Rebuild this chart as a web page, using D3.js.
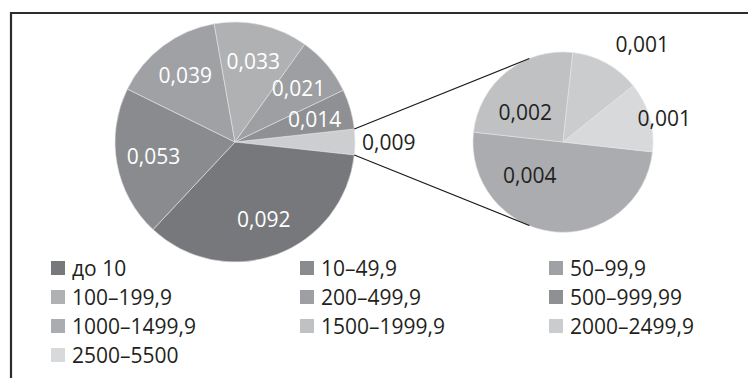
<!DOCTYPE html>
<html>
<head>
<meta charset="utf-8">
<script src="https://cdn.jsdelivr.net/npm/d3@7"></script>
<style>
  body { margin: 0; background: #fff; }
  svg text { font-family: "Open Sans", sans-serif; }
</style>
</head>
<body>
<div id="chart"></div>
<script>
// main pie: six ranges plus the grouped "other" slice
var mainCategories = ["до 10", "10–49,9", "50–99,9", "100–199,9", "200–499,9", "500–999,99"];
var mainValues = [0.092, 0.053, 0.039, 0.033, 0.021, 0.014];
var otherValue = 0.009;

// second pie: the split of the "other" slice
var subCategories = ["1000–1499,9", "1500–1999,9", "2000–2499,9", "2500–5500"];
var subValues = [0.004, 0.002, 0.001, 0.001];

var legendOrder = mainCategories.concat(subCategories);
var colors = {
  "до 10": "#77787c",
  "10–49,9": "#8a8b8e",
  "50–99,9": "#a0a1a4",
  "100–199,9": "#b0b1b3",
  "200–499,9": "#9e9fa2",
  "500–999,99": "#8f9093",
  "1000–1499,9": "#abacaf",
  "1500–1999,9": "#c0c1c3",
  "2000–2499,9": "#cbcccd",
  "2500–5500": "#d8d9da",
  "other": "#cdced0"
};

var fmt = function (v) { return String(v).replace(".", ","); };

var width = 748, height = 378;
var svg = d3.select("#chart").append("svg")
  .attr("width", width)
  .attr("height", height);

// frame
svg.append("line").attr("x1", 10).attr("x2", width).attr("y1", 13).attr("y2", 13)
  .attr("stroke", "#2d2d2d").attr("stroke-width", 2.2);
svg.append("line").attr("x1", 11).attr("x2", 11).attr("y1", 12).attr("y2", height)
  .attr("stroke", "#2d2d2d").attr("stroke-width", 2.2);

var main = { cx: 235, cy: 142, r: 120 };
var sub = { cx: 563, cy: 142, r: 90 };

// main pie, "other" slice centred on 3 o'clock
var mainData = [{ key: "other", value: otherValue }].concat(
  mainCategories.map(function (c, i) { return { key: c, value: mainValues[i] }; }));
var mainTotal = d3.sum(mainData, function (d) { return d.value; });
var half = Math.PI * otherValue / mainTotal;

var mainPie = d3.pie().sort(null).value(function (d) { return d.value; })
  .startAngle(Math.PI / 2 - half).endAngle(Math.PI / 2 - half + 2 * Math.PI);
var mainArcs = mainPie(mainData);
var mainArc = d3.arc().innerRadius(0).outerRadius(main.r);
var mainLabelArc = d3.arc().innerRadius(main.r * 0.69).outerRadius(main.r * 0.69);

var gMain = svg.append("g").attr("transform", "translate(" + main.cx + "," + main.cy + ")");
gMain.selectAll("path").data(mainArcs).enter().append("path")
  .attr("d", mainArc)
  .attr("fill", function (d) { return colors[d.data.key]; })
  .attr("stroke", "#e4e4e6").attr("stroke-width", 0.6);

gMain.selectAll("text").data(mainArcs.filter(function (d) { return d.data.key != "other"; }))
  .enter().append("text")
  .attr("transform", function (d) { return "translate(" + mainLabelArc.centroid(d) + ")"; })
  .attr("text-anchor", "middle").attr("dy", "0.36em")
  .attr("font-size", 21).attr("fill", "#fff")
  .text(function (d) { return fmt(d.data.value); });

// label of the grouped slice, outside
var otherArc = mainArcs[0];
var otherPos = d3.arc().innerRadius(main.r * 1.25).outerRadius(main.r * 1.25).centroid(otherArc);
svg.append("text")
  .attr("x", main.cx + otherPos[0] - 23).attr("y", main.cy + otherPos[1])
  .attr("dy", "0.36em").attr("font-size", 21).attr("fill", "#231f20")
  .text(fmt(otherValue));

// second pie
var subData = subCategories.map(function (c, i) { return { key: c, value: subValues[i] }; });
var subStart = 96.3 * Math.PI / 180;
var subPie = d3.pie().sort(null).value(function (d) { return d.value; })
  .startAngle(subStart).endAngle(subStart + 2 * Math.PI);
var subArcs = subPie(subData);
var subArc = d3.arc().innerRadius(0).outerRadius(sub.r);

var gSub = svg.append("g").attr("transform", "translate(" + sub.cx + "," + sub.cy + ")");
gSub.selectAll("path").data(subArcs).enter().append("path")
  .attr("d", subArc)
  .attr("fill", function (d) { return colors[d.data.key]; })
  .attr("stroke", "#e4e4e6").attr("stroke-width", 0.6);

// label spots for the small pie (screen angle in degrees, distance)
var subLabelSpots = [[135, 47], [218, 48], [309, 126], [347, 104]];
gSub.selectAll("text").data(subArcs).enter().append("text")
  .attr("x", function (d, i) { return subLabelSpots[i][1] * Math.cos(subLabelSpots[i][0] * Math.PI / 180); })
  .attr("y", function (d, i) { return subLabelSpots[i][1] * Math.sin(subLabelSpots[i][0] * Math.PI / 180); })
  .attr("text-anchor", "middle").attr("dy", "0.36em")
  .attr("font-size", 21).attr("fill", "#231f20")
  .text(function (d) { return fmt(d.data.value); });

// connector lines: from the edges of the grouped slice, tangent to the second pie
function tangentPoint(px, py, pickTop) {
  var dx = px - sub.cx, dy = py - sub.cy;
  var d = Math.sqrt(dx * dx + dy * dy);
  var dir = Math.atan2(dy, dx);
  var a = Math.acos(sub.r / d);
  var p1 = [sub.cx + sub.r * Math.cos(dir + a), sub.cy + sub.r * Math.sin(dir + a)];
  var p2 = [sub.cx + sub.r * Math.cos(dir - a), sub.cy + sub.r * Math.sin(dir - a)];
  if (pickTop) return p1[1] < p2[1] ? p1 : p2;
  return p1[1] > p2[1] ? p1 : p2;
}
[otherArc.startAngle, otherArc.endAngle].forEach(function (a, i) {
  var px = main.cx + main.r * Math.sin(a);
  var py = main.cy - main.r * Math.cos(a);
  var t = tangentPoint(px, py, i == 0);
  svg.append("line")
    .attr("x1", px).attr("y1", py).attr("x2", t[0]).attr("y2", t[1])
    .attr("stroke", "#1a1a1a").attr("stroke-width", 1.2);
});

// legend, three columns
var legend = svg.append("g");
var items = legend.selectAll("g").data(legendOrder).enter().append("g")
  .attr("transform", function (d, i) {
    return "translate(" + (51 + (i % 3) * 249) + "," + (268 + Math.floor(i / 3) * 29) + ")";
  });
items.append("rect")
  .attr("x", 0).attr("y", -7).attr("width", 14).attr("height", 14)
  .attr("fill", function (d) { return colors[d]; });
items.append("text")
  .attr("x", 21).attr("dy", "0.36em")
  .attr("font-size", 21).attr("fill", "#231f20")
  .text(function (d) { return d; });
</script>
</body>
</html>
